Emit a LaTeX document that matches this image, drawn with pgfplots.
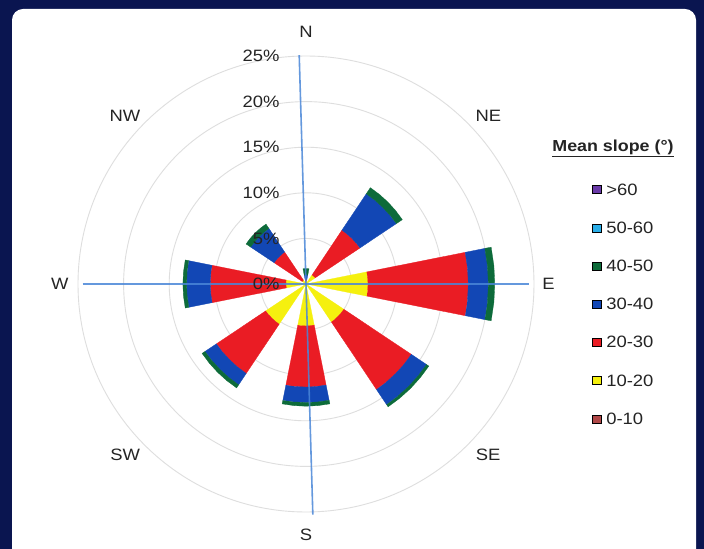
\documentclass[border=0pt]{standalone}
\usepackage{fontspec}
\setmainfont{Liberation Sans}[FakeStretch=1.12]
\usepackage{pgfplots}
\pgfplotsset{compat=1.18}
\usepgfplotslibrary{polar}
\definecolor{navy}{HTML}{0A1550}
\definecolor{ylw}{HTML}{F5F00F}
\definecolor{rd}{HTML}{EA1C24}
\definecolor{bl}{HTML}{1247B5}
\definecolor{gr}{HTML}{0D6B3A}
\definecolor{purp}{HTML}{6A3AA8}
\definecolor{lblue}{HTML}{2AAEE8}
\definecolor{brn}{HTML}{B04848}
\definecolor{axblue}{HTML}{4A86D8}
\definecolor{gridgray}{HTML}{DEDEDE}
\definecolor{txt}{HTML}{242424}
% one stacked segment of a rose bar: colour, direction angle, inner radius, outer radius
\newcommand{\seg}[4]{%
  \pgfmathsetmacro\aA{#2-11.25}\pgfmathsetmacro\aB{#2-5.625}%
  \pgfmathsetmacro\aC{#2}\pgfmathsetmacro\aD{#2+5.625}\pgfmathsetmacro\aE{#2+11.25}%
  \edef\tmp{\noexpand\addplot[fill=#1, draw=#1, line width=0.3bp, forget plot] coordinates {(\aA,#3) (\aA,#4) (\aB,#4) (\aC,#4) (\aD,#4) (\aE,#4) (\aE,#3) (\aD,#3) (\aC,#3) (\aB,#3)};}\tmp}
\begin{document}
\begin{tikzpicture}[font=\fontsize{16.5}{20}\selectfont]
\useasboundingbox (0,0) rectangle (704bp,549bp);
\fill[navy] (0,0) rectangle (704bp,549bp);
\fill[white, rounded corners=11bp] (12bp,-30bp) rectangle (696bp,540bp);
\begin{polaraxis}[
  at={(306bp,265bp)}, anchor=center,
  width=456bp, height=456bp, scale only axis,
  ymin=0, ymax=25,
  xtick=\empty,
  ytick={5,10,15,20,25},
  yticklabel=\empty,
  ymajorgrids,
  major grid style={draw=gridgray, line width=0.9bp},
  major tick length=0pt,
  axis line style={draw=none},
  clip=false,
  legend image code/.code={\fill[#1] (0bp,1.5bp) rectangle (9bp,9.5bp);},
  legend cell align=left,
  legend style={at={(1.127,0.750)}, anchor=north west, draw=none, fill=none,
    inner sep=0pt, outer sep=0pt, row sep=0pt,
    nodes={inner sep=0pt, anchor=base west, text height=12bp, text depth=0bp, minimum height=38.2bp, text=txt},
    /tikz/every odd column/.append style={column sep=5bp}},
]
\addlegendimage{fill=purp}
\addlegendimage{fill=lblue}
\addlegendimage{fill=gr}
\addlegendimage{fill=bl}
\addlegendimage{fill=rd}
\addlegendimage{fill=ylw}
\addlegendimage{fill=brn}
\legend{>60,50-60,40-50,30-40,20-30,10-20,0-10}
% E
\seg{ylw}{0}{0}{6.8}\seg{rd}{0}{6.8}{17.8}\seg{bl}{0}{17.8}{20.0}\seg{gr}{0}{20.0}{20.7}
% NE
\seg{ylw}{45}{0}{1.2}\seg{rd}{45}{1.2}{7.1}\seg{bl}{45}{7.1}{11.9}\seg{gr}{45}{11.9}{12.7}
% N
\seg{ylw}{90}{0}{0.3}\seg{rd}{90}{0.3}{0.5}\seg{bl}{90}{0.5}{1.0}\seg{gr}{90}{1.0}{1.7}
% NW
\seg{ylw}{135}{0}{0.5}\seg{rd}{135}{0.5}{4.2}\seg{bl}{135}{4.2}{7.3}\seg{gr}{135}{7.3}{7.9}
% W
\seg{ylw}{180}{0}{2.2}\seg{rd}{180}{2.2}{10.5}\seg{bl}{180}{10.5}{13.1}\seg{gr}{180}{13.1}{13.5}
% SW
\seg{ylw}{225}{0}{5.3}\seg{rd}{225}{5.3}{11.8}\seg{bl}{225}{11.8}{13.3}\seg{gr}{225}{13.3}{13.7}
% S
\seg{ylw}{270}{0}{4.6}\seg{rd}{270}{4.6}{11.3}\seg{bl}{270}{11.3}{13.0}\seg{gr}{270}{13.0}{13.4}
% SE
\seg{ylw}{315}{0}{5.0}\seg{rd}{315}{5.0}{13.9}\seg{bl}{315}{13.9}{15.9}\seg{gr}{315}{15.9}{16.2}
% axis lines
\addplot[axblue, line width=1.6bp, opacity=0.85, forget plot] coordinates {(180,24.5) (0,24.4)};
\addplot[axblue, line width=1.6bp, opacity=0.85, forget plot] coordinates {(91.7,25.1) (271.7,25.3)};
% radial labels
\node[anchor=east, text=txt, xshift=-23bp] at (axis cs:90,0) {0\%};
\node[anchor=east, text=txt, xshift=-23bp] at (axis cs:90,5) {5\%};
\node[anchor=east, text=txt, xshift=-23bp] at (axis cs:90,10) {10\%};
\node[anchor=east, text=txt, xshift=-23bp] at (axis cs:90,15) {15\%};
\node[anchor=east, text=txt, xshift=-23bp] at (axis cs:90,20) {20\%};
\node[anchor=east, text=txt, xshift=-23bp] at (axis cs:90,25) {25\%};
% direction labels
\node[text=txt] at (axis cs:90,27.6) {N};
\node[text=txt] at (axis cs:42.7,27.2) {NE};
\node[text=txt] at (axis cs:0,26.6) {E};
\node[text=txt] at (axis cs:316.8,27.4) {SE};
\node[text=txt] at (axis cs:270,27.5) {S};
\node[text=txt] at (axis cs:223.4,27.3) {SW};
\node[text=txt] at (axis cs:180,27.0) {W};
\node[text=txt] at (axis cs:137.1,27.1) {NW};
\end{polaraxis}
\node[text=txt, font=\fontsize{16}{20}\selectfont\bfseries] at (613bp,401bp) {\underline{Mean slope (°)}};
\end{tikzpicture}
\end{document}
